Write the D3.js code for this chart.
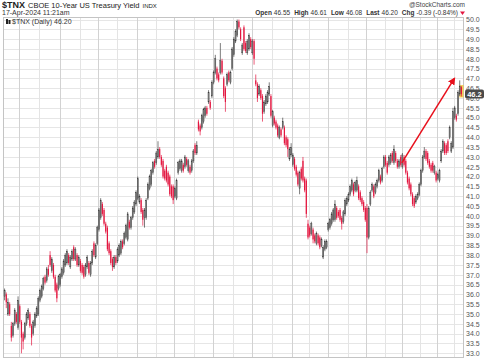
<!DOCTYPE html>
<html>
<head>
<meta charset="utf-8">
<script src="https://cdn.jsdelivr.net/npm/d3@7"></script>
<style>
  body { margin: 0; background: #fff; }
  svg { display: block; font-family: "Liberation Sans", Arial, sans-serif; }
</style>
</head>
<body>
<div id="chart"></div>
<script>
// daily candles (oldest first)
var opens = [
  35.9,36.0,35.0,35.5,34.4,33.9,34.5,35.0,34.3,35.4, 34.6,34.0,33.8,34.5,34.8,35.0,34.4,34.0,34.4,34.9,
  35.0,35.7,35.9,36.3,36.9,36.7,37.3,38.0,37.2,37.5, 36.9,36.5,36.3,36.5,36.9,37.1,37.5,37.6,38.0,37.4,
  37.8,38.4,37.8,38.0,37.5,37.7,37.5,37.4,37.0,37.4, 37.6,37.0,37.6,38.6,37.9,38.6,39.3,39.9,40.6,40.3,
  39.6,39.4,38.6,38.2,37.8,37.4,37.9,37.7,38.0,38.1, 38.7,38.6,38.9,38.8,39.7,39.4,39.9,40.2,40.6,40.9,
  40.7,40.8,40.3,39.9,39.9,40.9,41.4,41.6,42.2,42.8, 42.7,43.0,43.4,43.0,42.8,42.3,42.5,42.2,42.0,41.5,
  41.5,41.0,40.9,42.2,42.4,42.3,42.6,42.5,42.9,42.3, 42.5,42.3,42.8,43.6,43.2,44.8,44.6,44.5,44.8,45.1,
  45.5,45.8,45.8,46.1,46.8,47.3,47.5,47.2,47.3,47.9, 47.0,46.5,46.7,47.3,46.8,47.5,48.2,48.9,49.2,49.9,
  49.5,48.3,49.6,48.8,48.3,48.5,49.0,48.3,48.9,46.9, 46.7,46.2,46.4,46.1,45.3,45.7,45.8,46.2,46.1,44.6,
  45.0,44.8,44.6,44.0,44.4,44.5,44.5,44.0,43.9,42.9, 43.1,42.6,42.9,42.5,42.2,41.4,42.4,42.8,41.9,41.8,
  39.6,39.4,39.1,39.3,39.0,38.6,39.0,38.9,38.5,37.9, 38.3,38.4,39.3,39.4,39.6,39.8,39.8,40.4,40.2,40.3,
  39.9,39.7,40.1,40.6,40.8,41.1,41.3,41.6,41.3,41.3, 41.5,41.2,40.9,40.7,40.4,40.4,38.9,40.6,41.3,41.5,
  41.2,41.5,41.8,42.0,41.8,42.5,43.0,42.7,42.6,42.7, 43.2,42.7,43.2,42.8,42.5,43.0,42.5,43.0,42.8,42.2,
  41.9,41.6,41.1,40.9,40.7,40.9,41.1,41.6,42.3,43.0, 43.3,43.2,42.8,42.6,42.7,42.2,42.2,41.9,41.8,42.8,
  43.3,43.7,43.6,43.8,44.0,43.3,43.5,45.0,45.1,45.2, 46.2,46.55
];
var highs = [
  36.3,36.1,35.8,35.6,34.6,34.6,35.3,35.1,35.9,35.5, 34.7,34.1,34.6,35.1,35.3,35.1,34.5,34.7,35.1,35.4,
  35.9,36.3,36.5,36.9,37.0,37.4,37.5,38.2,37.9,37.6, 37.0,36.6,37.0,37.1,37.4,37.8,38.1,38.3,38.1,38.0,
  38.3,38.5,38.4,38.1,38.0,37.8,37.6,37.5,37.6,38.0, 37.7,37.7,38.3,38.7,38.6,39.5,40.4,40.9,40.7,40.4,
  39.7,39.5,38.7,38.3,37.9,38.0,38.0,38.4,38.6,38.8, 38.8,39.2,39.6,40.2,39.8,40.0,40.5,40.8,41.3,42.0,
  41.1,40.9,40.4,40.4,40.9,41.7,42.1,42.4,42.8,42.9, 43.3,43.8,43.5,43.1,42.9,42.4,42.6,42.3,42.1,41.6,
  41.6,41.5,41.9,42.8,42.9,42.9,42.7,43.1,43.0,42.9, 42.6,42.9,43.4,43.7,43.8,44.9,44.7,45.2,45.5,45.6,
  45.6,46.4,45.9,46.9,47.4,48.2,47.6,47.3,48.8,48.0, 47.1,46.6,47.3,47.4,47.4,48.6,49.1,49.5,50.0,50.0,
  49.6,48.8,49.7,48.9,49.0,49.3,49.1,49.0,49.0,47.2, 46.8,46.7,46.5,46.2,45.9,46.2,46.4,46.8,46.2,45.4,
  45.1,44.9,44.7,44.6,44.5,45.0,44.6,44.1,44.0,43.5, 43.7,43.2,43.0,42.6,42.3,42.3,42.5,43.0,42.0,41.9,
  39.8,39.5,39.7,39.4,39.1,39.2,39.1,39.0,38.9,38.5, 38.8,38.8,39.7,39.9,40.2,40.4,40.8,40.5,40.3,40.4,
  40.0,40.3,40.9,41.0,41.2,41.6,41.9,41.7,41.8,42.0, 41.6,41.3,41.0,40.8,40.5,40.6,40.5,41.3,41.7,41.6,
  41.7,41.9,42.4,42.1,42.5,43.1,43.1,42.8,43.1,43.2, 43.3,43.6,43.3,42.9,42.9,43.1,43.2,43.1,42.9,42.3,
  42.0,41.7,41.2,41.0,41.1,41.2,41.7,42.4,43.1,43.5, 43.4,43.3,42.9,42.7,42.8,42.6,42.3,42.2,42.4,43.4,
  43.9,43.8,43.7,43.9,44.6,43.8,45.5,45.6,45.2,46.4, 46.9,46.61
];
var lows = [
  35.7,35.3,34.9,34.9,33.6,33.8,34.4,34.5,34.2,34.5, 33.0,33.2,33.7,34.4,34.7,34.3,33.4,33.9,34.3,34.8,
  34.9,35.6,35.8,36.2,36.5,36.6,36.9,37.4,37.1,36.8, 36.1,35.6,36.2,36.4,36.8,37.0,37.4,37.5,37.5,37.3,
  37.7,37.7,37.7,37.4,37.4,37.1,37.0,36.8,36.9,37.3, 37.0,36.9,37.5,37.9,37.8,38.5,39.2,39.8,40.0,39.5,
  39.1,38.2,38.0,37.5,37.2,37.3,37.5,37.6,37.9,38.0, 38.3,38.5,38.8,38.7,39.3,39.3,39.8,40.1,40.5,40.8,
  40.6,40.1,39.5,39.4,39.8,40.8,41.3,41.5,42.1,42.4, 42.6,42.9,42.9,42.5,41.9,41.8,41.7,41.5,41.0,40.9,
  40.6,40.9,40.8,42.1,42.3,42.2,42.2,42.4,42.5,42.2, 42.1,42.2,42.7,43.1,43.1,44.3,44.1,44.4,44.7,45.0,
  45.1,45.7,45.4,46.0,46.7,47.2,46.9,46.8,47.2,47.2, 46.0,45.3,46.6,46.8,46.7,47.4,48.1,48.8,49.1,49.5,
  48.9,48.2,48.4,48.3,48.2,48.4,48.5,48.2,47.7,46.6, 45.8,46.1,45.9,44.8,45.2,45.6,45.7,46.1,45.0,44.5,
  44.6,44.4,44.0,43.9,44.0,44.4,43.6,43.5,43.0,42.8, 43.0,42.5,42.3,42.0,41.5,41.1,41.8,41.7,41.2,39.9,
  38.8,38.9,39.0,38.6,38.6,38.5,38.5,38.3,38.4,37.8, 38.2,38.3,39.2,39.3,39.5,39.7,39.7,39.8,39.9,39.7,
  39.3,39.6,40.0,40.5,40.7,41.0,41.2,41.0,41.2,41.2, 40.8,40.7,40.5,40.2,39.7,38.1,38.8,40.5,41.2,40.9,
  41.1,41.4,41.7,41.6,41.7,42.4,42.5,42.1,42.5,42.6, 42.7,42.6,42.7,42.4,42.4,42.5,42.4,42.5,42.1,41.6,
  41.3,41.0,40.5,40.4,40.6,40.8,41.0,41.5,42.2,42.9, 42.8,42.6,42.4,42.2,42.2,42.1,41.7,41.8,41.7,42.7,
  43.2,43.1,43.1,43.2,43.9,43.2,43.4,44.9,44.8,45.1, 46.1,46.08
];
var closes = [
  36.2,35.6,35.6,35.0,33.8,34.5,35.2,34.6,35.7,34.6, 33.8,33.6,34.5,35.0,35.2,34.4,33.8,34.6,35.0,35.3,
  35.8,36.2,36.4,36.8,36.6,37.3,37.0,37.5,37.8,36.9, 36.2,35.8,36.9,37.0,37.3,37.7,38.0,38.2,37.6,37.9,
  38.2,37.8,38.3,37.5,37.9,37.2,37.1,36.9,37.5,37.9, 37.1,37.6,38.2,38.0,38.5,39.4,40.3,40.8,40.1,39.6,
  39.2,38.3,38.1,37.6,37.4,37.9,37.6,38.3,38.5,38.7, 38.4,39.1,39.5,40.1,39.4,39.9,40.4,40.7,41.2,41.9,
  41.0,40.2,39.8,40.3,40.8,41.6,42.0,42.3,42.7,42.5, 43.2,43.4,43.0,42.6,42.0,41.9,41.8,41.6,41.1,41.0,
  40.8,41.4,41.8,42.7,42.8,42.8,42.3,43.0,42.6,42.8, 42.2,42.8,43.3,43.2,43.6,44.4,44.3,45.1,45.4,45.5,
  45.2,46.3,45.5,46.8,47.3,48.0,47.0,46.9,47.9,47.3, 46.1,45.8,47.2,46.9,47.3,48.5,49.0,49.4,49.9,49.6,
  49.0,48.7,48.5,48.4,48.9,49.2,48.6,48.9,48.0,46.7, 46.0,46.6,46.0,45.2,45.8,46.1,46.3,46.6,45.1,45.3,
  44.7,44.5,44.1,44.5,44.1,44.8,43.7,43.6,43.4,43.4, 43.5,43.1,42.4,42.1,41.6,42.2,41.9,41.8,41.3,40.1,
  38.9,39.0,39.6,38.8,38.7,39.1,38.6,38.4,38.8,38.4, 38.7,38.7,39.6,39.8,40.1,40.3,40.6,39.9,40.0,39.8,
  39.6,40.2,40.8,40.9,41.1,41.5,41.8,41.1,41.7,41.8, 40.9,40.8,40.6,40.3,39.8,38.9,40.4,41.2,41.6,41.0,
  41.6,41.8,42.3,41.7,42.4,43.0,42.6,42.2,43.0,43.1, 42.8,43.4,42.8,42.5,42.8,42.6,43.1,42.6,42.2,41.7,
  41.4,41.1,40.6,40.5,41.0,41.1,41.6,42.3,43.0,43.3, 42.9,42.7,42.5,42.3,42.3,42.5,41.8,42.1,42.3,43.3,
  43.8,43.2,43.2,43.3,44.5,43.7,45.3,45.5,44.9,46.3, 46.6,46.2
];

// vertical grid: candle indices of month starts and mid-months
var monthLines = [9, 33, 56, 79, 101, 124, 147, 171, 192, 215, 236, 257];
var midLines = [21, 45, 67, 90, 113, 136, 159, 181, 204, 226, 247, 267];
var yTicks = d3.range(33, 50.01, 0.5);

var width = 485, height = 360;
var plot = { left: 3, right: 463, top: 17, bottom: 357 };

var svg = d3.select("#chart").append("svg")
  .attr("width", width)
  .attr("height", height);

var n = closes.length;
var x = d3.scaleBand()
  .domain(d3.range(n))
  .range([4, 462])
  .paddingInner(0.3);

var y = d3.scaleLinear()
  .domain([33, 50])
  .range([353.3, 19.5]);

// grid
var grid = svg.append("g");
grid.selectAll(".hg").data(yTicks).enter().append("line")
  .attr("x1", plot.left).attr("x2", plot.right)
  .attr("y1", function (d) { return Math.round(y(d)) + 0.5; })
  .attr("y2", function (d) { return Math.round(y(d)) + 0.5; })
  .attr("stroke", "#e6e6e6");
grid.selectAll(".mg").data(midLines).enter().append("line")
  .attr("x1", function (d) { return Math.round(x(d)) + 0.5; })
  .attr("x2", function (d) { return Math.round(x(d)) + 0.5; })
  .attr("y1", plot.top).attr("y2", plot.bottom)
  .attr("stroke", "#e4e4e4");
grid.selectAll(".vg").data(monthLines).enter().append("line")
  .attr("x1", function (d) { return Math.round(x(d)) + 0.5; })
  .attr("x2", function (d) { return Math.round(x(d)) + 0.5; })
  .attr("y1", plot.top).attr("y2", plot.bottom)
  .attr("stroke", "#d2d2d2");

// frame
svg.append("rect")
  .attr("x", plot.left + 0.5).attr("y", plot.top + 0.5)
  .attr("width", plot.right - plot.left).attr("height", plot.bottom - plot.top)
  .attr("fill", "none").attr("stroke", "#c4c4c4");

// right axis
var axis = d3.axisRight(y)
  .tickValues(yTicks)
  .tickSize(0)
  .tickPadding(3)
  .tickFormat(d3.format(".1f"));
var ax = svg.append("g")
  .attr("transform", "translate(" + plot.right + ",0)")
  .call(axis);
ax.select(".domain").remove();
ax.selectAll("text")
  .attr("font-size", 7)
  .attr("fill", "#555")
  .attr("font-family", "Liberation Sans, Arial, sans-serif");

var bw = x.bandwidth();

// highlight on last bar
svg.append("rect")
  .attr("x", x(n - 1) - 1.5).attr("y", y(highs[n - 1]) - 1)
  .attr("width", bw + 3).attr("height", y(lows[n - 1]) - y(highs[n - 1]) + 2)
  .attr("fill", "#f4c430").attr("opacity", 0.8);

// candles
var up = "#444", down = "#e3163f";
var candles = svg.append("g").selectAll("g").data(closes).enter().append("g");

candles.append("line")
  .attr("x1", function (d, i) { return x(i) + bw / 2; })
  .attr("x2", function (d, i) { return x(i) + bw / 2; })
  .attr("y1", function (d, i) { return y(highs[i]); })
  .attr("y2", function (d, i) { return y(lows[i]); })
  .attr("stroke", function (d, i) { return closes[i] < opens[i] ? down : up; })
  .attr("stroke-width", 0.7);
candles.append("rect")
  .attr("x", function (d, i) { return x(i); })
  .attr("width", bw)
  .attr("y", function (d, i) { return y(Math.max(opens[i], closes[i])); })
  .attr("height", function (d, i) {
    return Math.max(1, Math.abs(y(opens[i]) - y(closes[i])));
  })
  .attr("fill", function (d, i) { return closes[i] < opens[i] ? down : "#777"; })
  .attr("stroke", function (d, i) { return closes[i] < opens[i] ? "none" : "#333"; })
  .attr("stroke-width", 0.3);

// arrow
var defs = svg.append("defs");
defs.append("marker")
  .attr("id", "arr")
  .attr("viewBox", "0 0 10 10")
  .attr("refX", 8).attr("refY", 5)
  .attr("markerWidth", 5).attr("markerHeight", 5)
  .attr("orient", "auto")
  .append("path").attr("d", "M0,0L10,5L0,10z").attr("fill", "#e8101c");
svg.append("line")
  .attr("x1", x(236)).attr("y1", y(42.7))
  .attr("x2", x(266) + 2).attr("y2", y(47.0))
  .attr("stroke", "#e8101c").attr("stroke-width", 1.5)
  .attr("marker-end", "url(#arr)");

// last price tag
var last = closes[n - 1];
svg.append("rect")
  .attr("x", plot.right + 2).attr("y", y(last) - 4.5)
  .attr("width", 19).attr("height", 9).attr("rx", 2)
  .attr("fill", "#4a4a4a");
svg.append("text")
  .attr("x", plot.right + 11.5).attr("y", y(last) + 2.8)
  .attr("text-anchor", "middle")
  .attr("font-size", 7.5).attr("font-weight", "bold")
  .attr("fill", "#fff")
  .text(d3.format(".1f")(last));

// legend inside plot
svg.append("rect").attr("x", 6).attr("y", 19).attr("width", 2).attr("height", 5).attr("fill", "#222");
svg.append("rect").attr("x", 8.5).attr("y", 20).attr("width", 2).attr("height", 4).attr("fill", "#222");
svg.append("text")
  .attr("x", 12).attr("y", 24)
  .attr("font-size", 7).attr("fill", "#333")
  .text("$TNX (Daily) 46.20");

// header
var h1 = svg.append("text").attr("x", 2).attr("y", 8).attr("fill", "#222");
h1.append("tspan").attr("font-size", 9).attr("font-weight", "bold").text("$TNX");
h1.append("tspan").attr("font-size", 7.5).attr("dx", 3).text("CBOE 10-Year US Treasury Yield");
h1.append("tspan").attr("font-size", 6).attr("dx", 3).text("INDX");

svg.append("text").attr("x", 2).attr("y", 15)
  .attr("font-size", 7).attr("fill", "#333")
  .text("17-Apr-2024 11:21am");

svg.append("text").attr("x", 465).attr("y", 7)
  .attr("text-anchor", "end")
  .attr("font-size", 6.5).attr("fill", "#444")
  .text("@StockCharts.com");

var info = svg.append("text").attr("x", 458).attr("y", 15)
  .attr("text-anchor", "end").attr("font-size", 6.5).attr("fill", "#333");
var fields = [["Open", "46.55"], ["High", "46.61"], ["Low", "46.08"], ["Last", "46.20"], ["Chg", "-0.39 (-0.84%)"]];
fields.forEach(function (f, i) {
  info.append("tspan").attr("font-weight", "bold").attr("dx", i ? 4 : 0).text(f[0]);
  info.append("tspan").attr("dx", 2).text(f[1]);
});
svg.append("path")
  .attr("d", "M460,11.5L465,11.5L462.5,15z")
  .attr("fill", "#e3163f");
</script>
</body>
</html>
